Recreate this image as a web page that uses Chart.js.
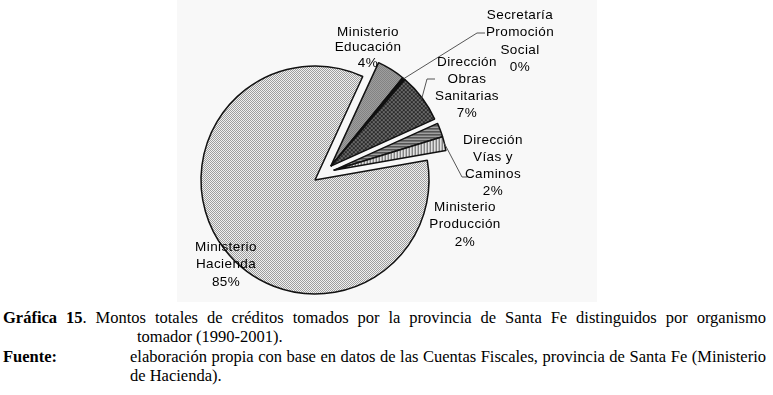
<!DOCTYPE html>
<html>
<head>
<meta charset="utf-8">
<script src="https://cdn.jsdelivr.net/npm/chart.js@4.4.0/dist/chart.umd.min.js"></script>
<style>
  body { margin: 0; width: 773px; height: 395px; background: #fff; position: relative; overflow: hidden;
         font-family: "Liberation Serif", "Times New Roman", serif; }
  #bg { position: absolute; left: 177px; top: 0; width: 420px; height: 302px; background: #f8f8f8; }
  #pie { position: absolute; left: 0; top: 0; }
  .cap { position: absolute; font-size: 16.5px; line-height: 20px; color: #000; white-space: nowrap; }
</style>
</head>
<body>
<div id="bg"></div>
<canvas id="pie" width="773" height="305"></canvas>

<div class="cap just" style="left:3px;top:308px" data-w="763"><b>Gráfica 15</b>. Montos totales de créditos tomados por la provincia de Santa Fe distinguidos por organismo</div>
<div class="cap" style="left:137px;top:327px">tomador (1990-2001).</div>
<div class="cap" style="left:3px;top:347px"><b>Fuente:</b></div>
<div class="cap just" style="left:130px;top:347px" data-w="636">elaboración propia con base en datos de las Cuentas Fiscales, provincia de Santa Fe (Ministerio</div>
<div class="cap" style="left:130px;top:366px">de Hacienda).</div>

<script>
// data
const organismos = [
  "Ministerio Hacienda",
  "Ministerio Educación",
  "Secretaría Promoción Social",
  "Dirección Obras Sanitarias",
  "Ministerio Producción",
  "Dirección Vías y Caminos",
];
const montos = [85, 4, 0.4, 7, 2, 2]; // % del total
const pctText = ["85%", "4%", "0%", "7%", "2%", "2%"];
const labelLines = [
  ["Ministerio", "Hacienda"],
  ["Ministerio", "Educación"],
  ["Secretaría", "Promoción", "Social"],
  ["Dirección", "Obras", "Sanitarias"],
  ["Ministerio", "Producción"],
  ["Dirección", "Vías y", "Caminos"],
];

// exploded slices are pulled out in two blocks
const explodeGroups = [[1, 2, 3], [4, 5]];
const explodeDist = 21;

// label placement (text only), leader = points from label toward the slice
const labelLayout = [
  { x: 226, y: 247, lh: 17.5 },
  { x: 368, y: 32, lh: 15.5 },
  { x: 520, y: 15, lh: 17.5, leader: [[485, 33], [477, 33]] },
  { x: 467, y: 62, lh: 17, leader: [[435, 79], [427, 79]] },
  { x: 465, y: 207, lh: 17.5 },
  { x: 493, y: 140, lh: 17, leader: [[467, 177], [462, 177]] },
];

function makePattern(w, h, paint) {
  const c = document.createElement("canvas");
  c.width = w; c.height = h;
  const g = c.getContext("2d");
  paint(g);
  return document.getElementById("pie").getContext("2d").createPattern(c, "repeat");
}
function checker(a, b) {
  return makePattern(2, 2, g => {
    g.fillStyle = b; g.fillRect(0, 0, 2, 2);
    g.fillStyle = a; g.fillRect(0, 0, 1, 1); g.fillRect(1, 1, 1, 1);
  });
}

const fills = [
  checker("#9e9e9e", "#f0f0f0"),          // Hacienda, light stipple
  checker("#6e6e6e", "#b4b4b4"),          // Educación
  "#111111",                              // Secretaría
  makePattern(4, 4, g => {                // Obras Sanitarias, dark cross hatch
    g.fillStyle = "#6a6a6a"; g.fillRect(0, 0, 4, 4);
    g.fillStyle = "#2a2a2a";
    g.fillRect(0, 0, 1, 1); g.fillRect(1, 1, 1, 1); g.fillRect(2, 2, 1, 1); g.fillRect(3, 3, 1, 1);
    g.fillRect(3, 0, 1, 1); g.fillRect(2, 1, 1, 1); g.fillRect(1, 2, 1, 1); g.fillRect(0, 3, 1, 1);
  }),
  makePattern(3, 3, g => {                // Producción, horizontal stripes
    g.fillStyle = "#a0a0a0"; g.fillRect(0, 0, 3, 3);
    g.fillStyle = "#2a2a2a"; g.fillRect(0, 0, 3, 1);
  }),
  makePattern(3, 3, g => {                // Vías y Caminos, vertical stripes
    g.fillStyle = "#e2e2e2"; g.fillRect(0, 0, 3, 3);
    g.fillStyle = "#5a5a5a"; g.fillRect(0, 0, 1, 3);
  }),
];

// shift of each arc: blocks move out along a direction between their own middle and the middle of all pulled slices
function arcShifts(arcs) {
  const shifts = arcs.map(() => [0, 0]);
  const all = explodeGroups.flat();
  const allMid = (arcs[all[0]].startAngle + arcs[all[all.length - 1]].endAngle) / 2;
  explodeGroups.forEach(grp => {
    const mid = (arcs[grp[0]].startAngle + arcs[grp[grp.length - 1]].endAngle) / 2;
    const dir = (mid + allMid) / 2;
    grp.forEach(i => { shifts[i] = [Math.cos(dir) * explodeDist, Math.sin(dir) * explodeDist]; });
  });
  return shifts;
}

const explodedPie = {
  id: "explodedPie",
  beforeDatasetsDraw(chart) {
    const ctx = chart.ctx;
    const arcs = chart.getDatasetMeta(0).data;
    const shifts = arcShifts(arcs);
    arcs.forEach((arc, i) => {
      ctx.save();
      ctx.translate(shifts[i][0], shifts[i][1]);
      arc.draw(ctx);
      ctx.restore();
    });
    return false;
  },
  afterDraw(chart) {
    const ctx = chart.ctx;
    const arcs = chart.getDatasetMeta(0).data;
    const shifts = arcShifts(arcs);
    ctx.save();
    // leader lines
    ctx.strokeStyle = "#555";
    ctx.lineWidth = 1;
    labelLayout.forEach((L, i) => {
      if (!L.leader) return;
      const a = arcs[i];
      const mid = (a.startAngle + a.endAngle) / 2;
      ctx.beginPath();
      L.leader.forEach((p, k) => k ? ctx.lineTo(p[0], p[1]) : ctx.moveTo(p[0], p[1]));
      ctx.lineTo(a.x + shifts[i][0] + Math.cos(mid) * a.outerRadius,
                 a.y + shifts[i][1] + Math.sin(mid) * a.outerRadius);
      ctx.stroke();
    });
    // texts
    ctx.font = '13.5px "Liberation Sans", Arial, sans-serif';
    ctx.letterSpacing = "0.4px";
    ctx.fillStyle = "#000";
    ctx.textAlign = "center";
    ctx.textBaseline = "middle";
    labelLayout.forEach((L, i) => {
      const lines = labelLines[i].concat(pctText[i]);
      lines.forEach((t, j) => ctx.fillText(t, L.x, L.y + j * L.lh));
    });
    ctx.restore();
  },
};

new Chart(document.getElementById("pie"), {
  type: "pie",
  data: {
    labels: organismos,
    datasets: [
      {
        data: montos,
        backgroundColor: fills,
        borderColor: "#111",
        borderWidth: 1.5,
        hoverOffset: 0,
      },
    ],
  },
  options: {
    responsive: false,
    animation: false,
    rotation: 80,
    radius: 114,
    layout: { padding: { top: 55, right: 143 } },
    plugins: {
      legend: { display: false },
      tooltip: { enabled: false },
    },
  },
  plugins: [explodedPie],
});

// stretch justified caption lines to their width
document.querySelectorAll(".just").forEach(el => {
  const target = +el.dataset.w;
  const gaps = (el.textContent.match(/ /g) || []).length;
  const natural = el.getBoundingClientRect().width;
  if (gaps) el.style.wordSpacing = ((target - natural) / gaps) + "px";
});
</script>
</body>
</html>
